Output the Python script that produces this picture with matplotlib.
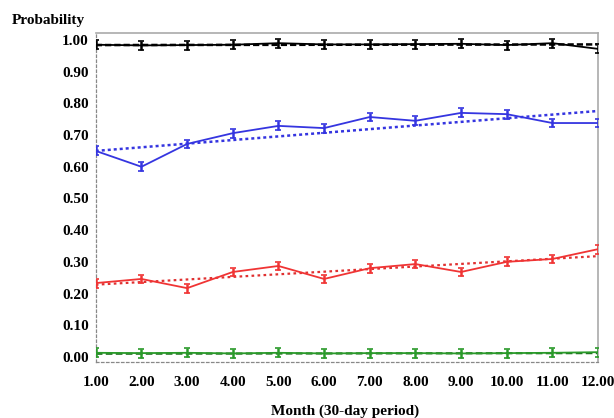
import numpy as np
import matplotlib.pyplot as plt

months = np.arange(1, 13)
tick_labels = ["%.2f" % m for m in months]

# probability per month
p_black = [0.985, 0.983, 0.984, 0.985, 0.990, 0.986, 0.986, 0.987, 0.988, 0.984, 0.990, 0.972]
p_blue = [0.650, 0.600, 0.672, 0.706, 0.729, 0.722, 0.757, 0.745, 0.770, 0.766, 0.738, 0.738]
p_red = [0.233, 0.246, 0.217, 0.268, 0.287, 0.246, 0.280, 0.293, 0.268, 0.300, 0.309, 0.340]
p_green = [0.013, 0.012, 0.013, 0.011, 0.013, 0.011, 0.012, 0.012, 0.011, 0.012, 0.013, 0.015]

# trend line values at month 1 and month 12
trend_black = [0.984, 0.986]
trend_blue = [0.650, 0.776]
trend_red = [0.228, 0.318]
trend_green = [0.010, 0.012]

# half length of the small error bars
err = 0.014

fig = plt.figure(figsize=(6.14, 4.18), dpi=100)
ax = fig.add_axes([0.156, 0.134, 0.818, 0.787])

series = [
    (p_black, trend_black, "black", "black", (0, (2.5, 1.2)), 1.8),
    (p_blue, trend_blue, "#3535e0", "#3535e0", (0, (1.2, 1.2)), 1.8),
    (p_red, trend_red, "#f03434", "#e03030", (0, (1.2, 1.5)), 1.6),
    (p_green, trend_green, "#2a9a2a", "#1f6f1f", (0, (3, 1.5)), 1.6),
]

for vals, trend, col, tcol, ls, tlw in series:
    ax.plot([months[0], months[-1]], trend, color=tcol, linestyle=ls, lw=tlw, zorder=2)
    ax.errorbar(months, vals, yerr=err, color=col, lw=1.3, elinewidth=1.8,
                capsize=2, capthick=1.2, zorder=3)

ax.set_xlim(1, 12)
ax.set_ylim(-0.016, 1.022)
ax.set_xticks(months)
ax.set_xticklabels(tick_labels)
ax.set_yticks(np.arange(0, 1.01, 0.1))
ax.set_yticklabels(["%.2f" % v for v in np.arange(0, 1.01, 0.1)])

serif = ["Liberation Serif", "DejaVu Serif"]
font = dict(family=serif, weight="bold", size=11)
for lab in ax.get_xticklabels() + ax.get_yticklabels():
    lab.set_fontfamily(serif)
    lab.set_fontweight("bold")
    lab.set_fontsize(11)
ax.tick_params(axis="y", length=0, pad=5)
ax.tick_params(axis="x", length=0, pad=10)

for side in ["left", "bottom"]:
    ax.spines[side].set_linestyle((0, (2, 2)))
    ax.spines[side].set_color("#888888")
    ax.spines[side].set_linewidth(0.9)
for side in ["top", "right"]:
    ax.spines[side].set_color("#aaaaaa")
    ax.spines[side].set_linewidth(1.2)

fig.text(0.02, 0.952, "Probability", ha="left", va="center", **font)
fig.text(0.562, 0.017, "Month (30-day period)", ha="center", va="center", **font)

fig.savefig("out.png", dpi=100)
